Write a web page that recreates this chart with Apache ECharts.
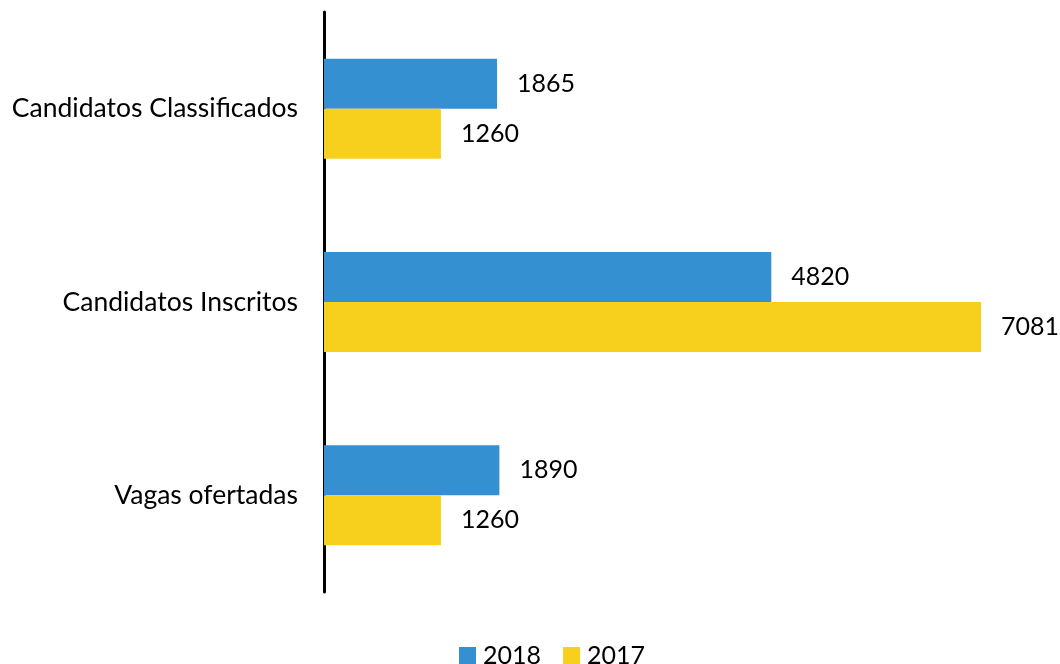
<!DOCTYPE html>
<html>
<head>
<meta charset="utf-8">
<script src="https://cdn.jsdelivr.net/npm/echarts@6/dist/echarts.min.js"></script>
<style>html,body{margin:0;padding:0;background:#fff}#c{width:1060px;height:664px}</style>
</head>
<body>
<div id="c"></div>
<script>
const categories = ['Vagas ofertadas', 'Candidatos Inscritos', 'Candidatos Classificados'];
const seriesNames = ['2018', '2017'];
const values2018 = [1890, 4820, 1865];
const values2017 = [1260, 7081, 1260];

const FONT = 'Lato';
const chart = echarts.init(document.getElementById('c'), null, {renderer: 'canvas'});
const labelStyle = {show: true, position: 'right', distance: 20, color: '#000', fontFamily: FONT, fontSize: 25};
chart.setOption({
  animation: false,
  textStyle: {fontFamily: FONT},
  grid: {left: 324, right: 40, top: 12, bottom: 72, containLabel: false},
  legend: {
    top: 638, left: 454, itemWidth: 17, itemHeight: 17, itemGap: 22,
    icon: 'rect',
    textStyle: {fontFamily: FONT, fontSize: 25, color: '#000', padding: [0, 0, 0, 2]},
    data: seriesNames
  },
  xAxis: {type: 'value', min: 0, max: 7500, show: false},
  yAxis: {
    type: 'category', data: categories,
    axisLine: {show: true, lineStyle: {color: '#000', width: 3}},
    axisTick: {show: false},
    axisLabel: {fontFamily: FONT, fontSize: 26.5, color: '#000', margin: 26}
  },
  series: [
    {name: '2018', type: 'bar', data: values2018, barWidth: 50, barGap: '0%', itemStyle: {color: '#3490D0'}, label: labelStyle},
    {name: '2017', type: 'bar', data: values2017, barWidth: 50, barGap: '0%', itemStyle: {color: '#F7CF1D'}, label: labelStyle}
  ]
});
</script>
</body>
</html>
